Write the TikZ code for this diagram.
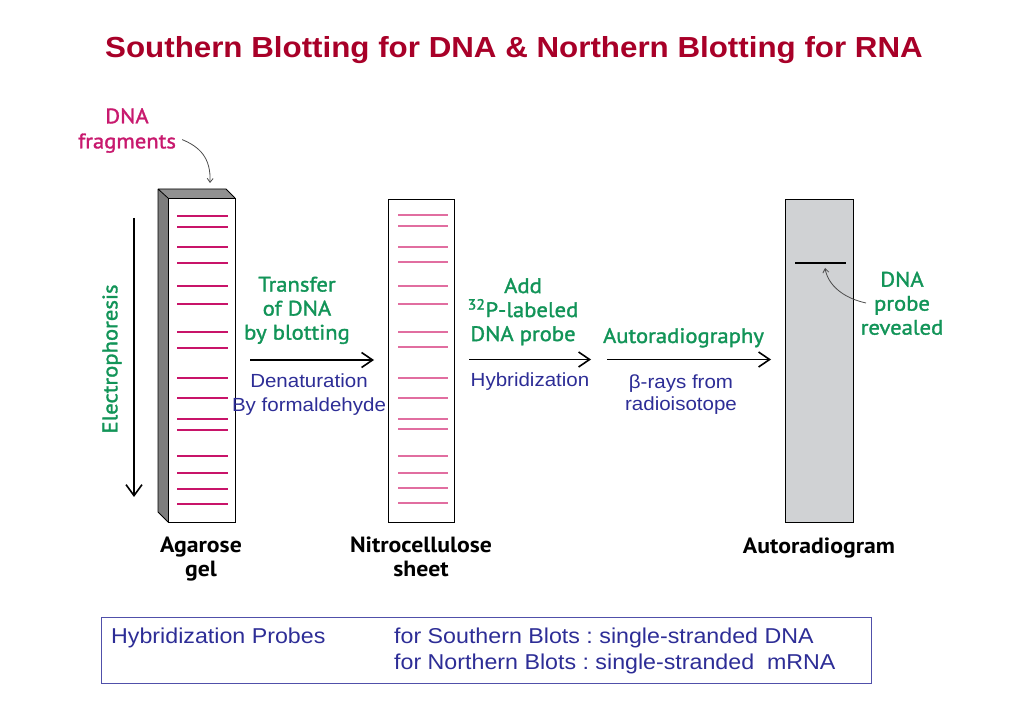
\documentclass[tikz,border=0pt]{standalone}
\usepackage{fontspec}
\setmainfont{Liberation Sans}[FakeStretch=1.08]
\newfontfamily\myr{PT Sans}[FakeStretch=1.08]
\newfontfamily\myrh{PT Sans}[FakeStretch=1.08,FakeBold=1.5]
\usetikzlibrary{arrows.meta}
\frenchspacing
\definecolor{titlered}{RGB}{168,0,40}
\definecolor{figgreen}{RGB}{18,148,88}
\definecolor{figmag}{RGB}{200,25,110}
\definecolor{bandmag}{RGB}{200,20,105}
\definecolor{bandpink}{RGB}{225,110,160}
\definecolor{labblue}{RGB}{45,45,150}
\definecolor{boxblue}{RGB}{80,80,170}
\definecolor{gelgray}{RGB}{125,125,125}
\definecolor{autogray}{RGB}{208,210,212}
\tikzset{
  greenlab/.style={text=figgreen, font=\myrh\fontsize{21}{24}\selectfont, align=center, inner sep=0},
  boldlab/.style={text=black, font=\myr\bfseries\fontsize{22}{24}\selectfont, align=center, inner sep=0},
  bluelab/.style={text=labblue, font=\fontsize{19}{24.5}\selectfont, align=center, inner sep=0},
  boxtext/.style={text=labblue, font=\fontsize{21.5}{26}\selectfont, inner sep=0, anchor=base west},
  gelband/.style={draw=bandmag, line width=2.8},
  nitroband/.style={draw=bandpink, line width=2.5},
  procarrow/.style={line width=1.8, -{Straight Barb[length=11pt,width=15pt,line width=1.6pt]}},
  thinarrow/.style={draw=black!70, line width=0.8, -{Straight Barb[length=4pt,width=6pt]}},
}
\begin{document}
\begin{tikzpicture}[x=1pt,y=-1pt]
\useasboundingbox (0,0) rectangle (1023,708);
% title
\node[text=titlered, font=\bfseries\fontsize{29}{34}\selectfont, anchor=base] (title) at (514,58) {Southern Blotting for DNA \& Northern Blotting for RNA};

% agarose gel (3D slab)
\fill[gelgray] (158,189) -- (168,198) -- (168,522) -- (158,512) -- cycle;
\fill[gelgray!85] (158,189) -- (226,189) -- (235,198) -- (168,198) -- cycle;
\draw[line width=0.8] (158,189) -- (226,189) -- (235,198) (158,189) -- (168,198) (158,189) -- (158,512) -- (168,522);
\node[draw, line width=0.8, fill=white, minimum width=67, minimum height=324, anchor=north west, inner sep=0] (gel) at (168,198) {};
\foreach \yy in {216,227,247,263,286,304,332,348,378,398,419,430,456,473,489,504}
  \draw[gelband] (177,\yy) -- (228,\yy);

% nitrocellulose sheet
\node[draw, line width=0.8, fill=white, minimum width=66, minimum height=323, anchor=north west, inner sep=0] (nitro) at (388,199) {};
\foreach \yy in {215,226,247,262,286,304,332,347,378,398,419,429,456,473,488,503}
  \draw[nitroband] (398,\yy) -- (448,\yy);

% autoradiogram
\node[draw, line width=0.8, fill=autogray, minimum width=68, minimum height=323, anchor=north west, inner sep=0] (auto) at (785,199) {};
\draw[line width=2.5] (795,263) -- (846,263);
\coordinate (band) at (825,268);

% DNA fragments label
\node[text=figmag, font=\myrh\fontsize{21}{25}\selectfont, align=center, inner sep=0] (frag) at (127,130.6) {DNA\\fragments};
\coordinate (fragtip) at (210,183);
\draw[thinarrow] (frag.east) ++(6,9) .. controls (200,147) and (211,158) .. (fragtip);

% electrophoresis
\node[greenlab, rotate=90] (electro) at (112,359) {Electrophoresis};
\coordinate (etop) at (134,218);
\coordinate (ebot) at (134,497);
\draw[line width=2, -{Straight Barb[length=11pt,width=16pt,line width=1.6pt]}] (etop) -- (ebot);

% step 1
\coordinate (a1s) at (250,360);
\coordinate (a1e) at (374,360);
\draw[procarrow] (a1s) -- (a1e);
\node[greenlab] (transfer) at (297,310.4) {Transfer\\of DNA\\by blotting};
\node[bluelab] (denat) at (309,394.6) {Denaturation\\By formaldehyde};

% step 2
\coordinate (a2s) at (469,359.5);
\coordinate (a2e) at (591,359.5);
\draw[procarrow] (a2s) -- (a2e);
\node[greenlab] (add) at (523,311.7) {Add\\\textsuperscript{32}P-labeled\\DNA probe};
\node[bluelab, anchor=base] (hybr) at (530,386.7) {Hybridization};

% step 3
\coordinate (a3s) at (607,359.5);
\coordinate (a3e) at (771,359.5);
\draw[procarrow] (a3s) -- (a3e);
\node[greenlab, anchor=base] (autorad) at (683.5,343) {Autoradiography};
\node[bluelab, font=\fontsize{19}{22}\selectfont] (beta) at (681,394.4) {β-rays from\\radioisotope};

% probe revealed
\node[greenlab] (revealed) at (902,303.3) {DNA\\probe\\revealed};
\draw[thinarrow] (866,303) .. controls (843,298) and (828,285) .. (band);

% bottom labels
\node[boldlab] (agarose) at (201,559.5) {Agarose\\gel};
\node[boldlab] (nitrolab) at (421,557.1) {Nitrocellulose\\sheet};
\node[boldlab, anchor=base] (autolab) at (819,553) {Autoradiogram};

% bottom box
\node[draw=boxblue, line width=1, minimum width=770, minimum height=66, anchor=north west, inner sep=0] (box) at (101,617) {};
\node[boxtext] (hp) at (111,643) {Hybridization Probes};
\node[boxtext] (south) at (394,643) {for Southern Blots : single-stranded DNA};
\node[boxtext] (north) at (394,669) {for Northern Blots : single-stranded\ \ mRNA};
\end{tikzpicture}
\end{document}
